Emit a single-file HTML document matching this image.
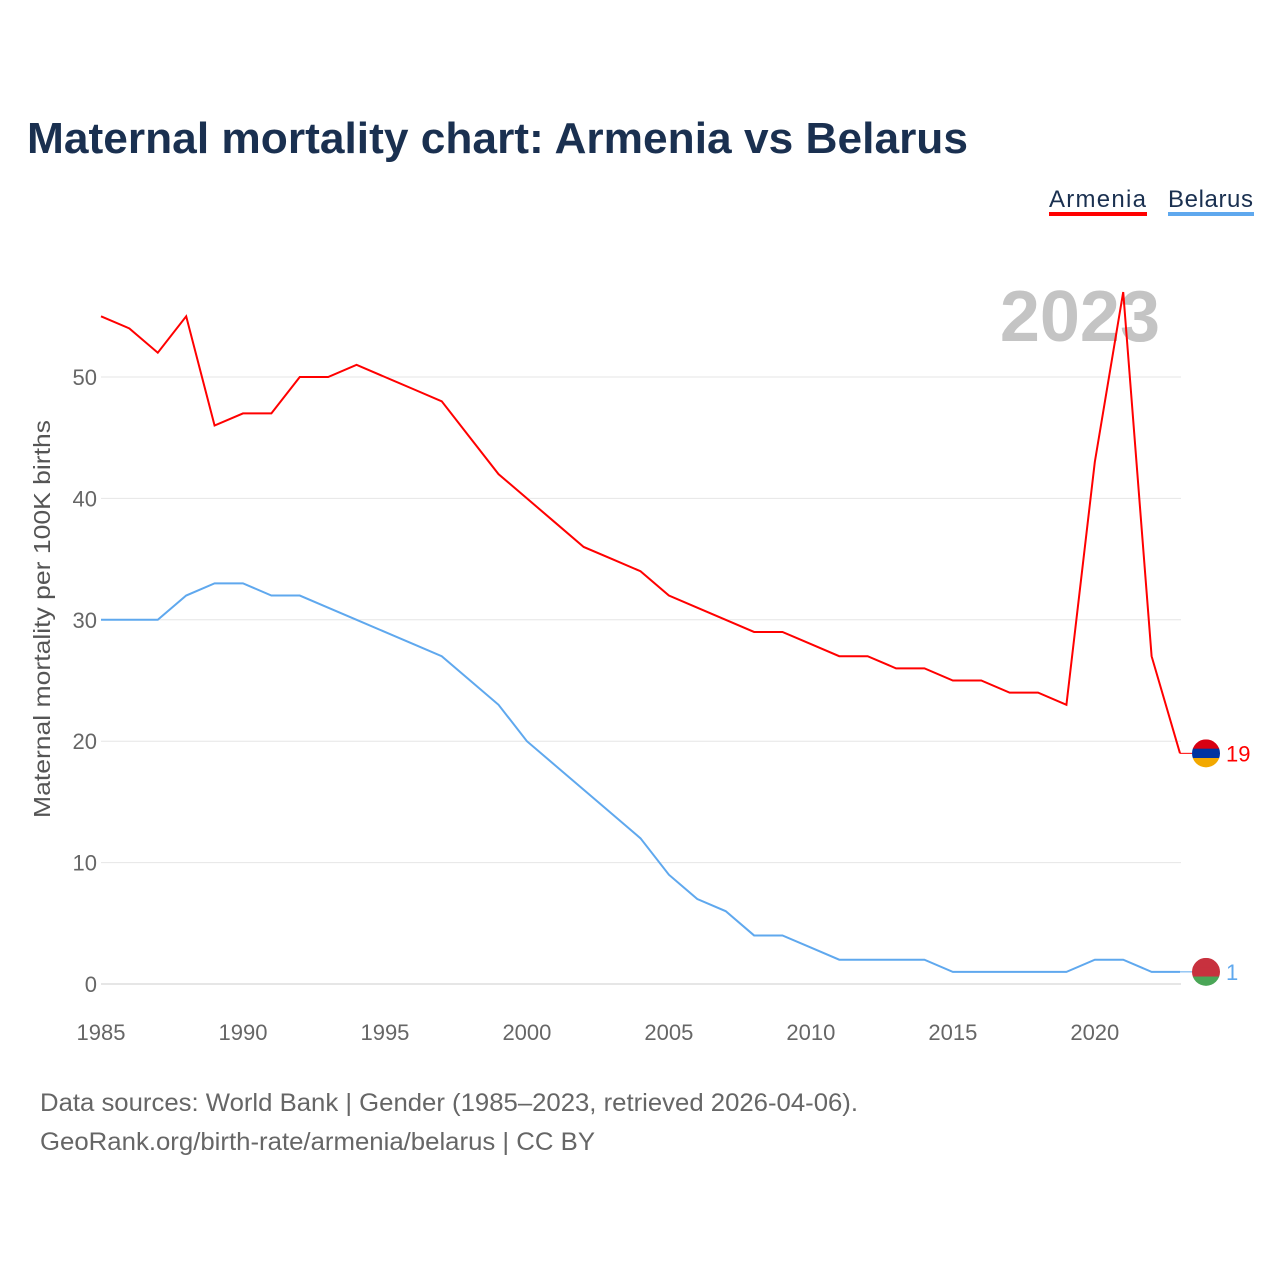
<!DOCTYPE html>
<html><head><meta charset="utf-8"><style>
body{margin:0;background:#fff;font-family:"Liberation Sans",sans-serif;}
svg text{font-family:"Liberation Sans",sans-serif;}
</style></head><body>
<svg id="chart" width="1280" height="1280" viewBox="0 0 1280 1280">
<rect width="1280" height="1280" fill="#fff"/>
<text x="27" y="153" font-size="44" font-weight="bold" fill="#1a3050" textLength="941" lengthAdjust="spacingAndGlyphs">Maternal mortality chart: Armenia vs Belarus</text>
<g>
<text x="1049" y="207" font-size="24" fill="#1a3050" textLength="97">Armenia</text>
<rect x="1049" y="212" width="98" height="4" fill="#ff0000"/>
<text x="1168" y="207" font-size="24" fill="#1a3050" textLength="85">Belarus</text>
<rect x="1168" y="212" width="86" height="4" fill="#5fa8ee"/>
</g>
<text x="1160" y="341" font-size="72" font-weight="bold" fill="#c4c4c4" text-anchor="end">2023</text>
<g id="grid"></g>
<g id="xticks"></g>
<g id="series"></g>
<text transform="translate(50,619) rotate(-90)" font-size="23" fill="#555" text-anchor="middle" textLength="398" lengthAdjust="spacingAndGlyphs">Maternal mortality per 100K births</text>
<text x="40" y="1111" font-size="25" fill="#666" textLength="818" lengthAdjust="spacingAndGlyphs">Data sources: World Bank | Gender (1985–2023, retrieved 2026-04-06).</text>
<text x="40" y="1150" font-size="25" fill="#666" textLength="555" lengthAdjust="spacingAndGlyphs">GeoRank.org/birth-rate/armenia/belarus | CC BY</text>
</svg>
<script>
const years=[];for(let y=1985;y<=2023;y++)years.push(y);
const armenia=[55,54,52,55,46,47,47,50,50,51,50,49,48,45,42,40,38,36,35,34,32,31,30,29,29,28,27,27,26,26,25,25,24,24,23,43,57,27,19];
const belarus=[30,30,30,32,33,33,32,32,31,30,29,28,27,25,23,20,18,16,14,12,9,7,6,4,4,3,2,2,2,2,1,1,1,1,1,2,2,1,1];
const yTicks=[0,10,20,30,40,50];
const xTicks=[1985,1990,1995,2000,2005,2010,2015,2020];
const NS="http://www.w3.org/2000/svg";
const xs=y=>101+(y-1985)*(1180-101)/38;
const ys=v=>984-v*(984-377)/50;
function el(t,a,p){const e=document.createElementNS(NS,t);for(const k in a)e.setAttribute(k,a[k]);p.appendChild(e);return e;}
const grid=document.getElementById('grid');
yTicks.forEach(v=>{
 const l=el('line',{x1:101,x2:1181,y1:ys(v),y2:ys(v),stroke:v===0?'#ccc':'#e6e6e6','stroke-width':1},grid);
 
 
 const t=el('text',{x:97,y:ys(v)+8,'font-size':22,fill:'#666','text-anchor':'end'},grid);t.textContent=v;
 
 
});
const xt=document.getElementById('xticks');
xTicks.forEach(y=>{
 const t=el('text',{x:xs(y),y:1040,'font-size':22,fill:'#666','text-anchor':'middle'},xt);t.textContent=y;
 
 
});
const sg=document.getElementById('series');
function series(data,color,name,flag){
 const p=el('polyline',{points:data.map((v,i)=>xs(years[i])+','+ys(v)).join(' '),fill:'none',stroke:color,'stroke-width':2},sg);
 
 
 const last=data[data.length-1],ly=ys(last),lx=xs(years[years.length-1]);
 el('line',{x1:lx,x2:lx+12,y1:ly,y2:ly,stroke:color,'stroke-width':1},sg);
 const g=el('g',{},sg);
 
 
 const cx=1206,r=14;
 const cp=el('clipPath',{id:'c'+name},g);el('circle',{cx:cx,cy:ly,r:r},cp);
 flag.forEach((c,i)=>el('rect',{x:cx-r,y:ly-r+i*(2*r/flag.length),width:2*r,height:2*r/flag.length+0.5,fill:c,'clip-path':'url(#c'+name+')'},g));
 const t=el('text',{x:1226,y:ly+8,'font-size':22,fill:color},sg);t.textContent=last;
 
 
}
series(armenia,'#ff0000','armenia',['#d90012','#0033a0','#f2a800']);
series(belarus,'#5fa8ee','belarus',['#c8313e','#c8313e','#4aa657']);
</script>
</body></html>
